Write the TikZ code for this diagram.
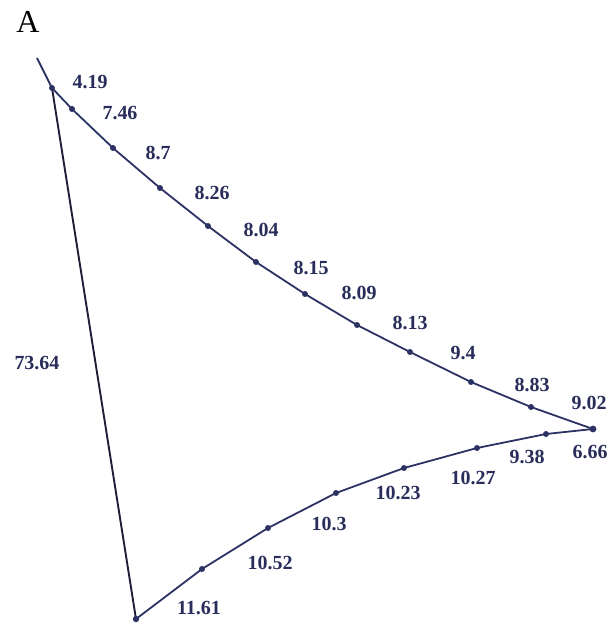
\documentclass[tikz,border=0pt]{standalone}
\usepackage{fontspec}
\setmainfont{Liberation Serif}
\usepackage{tikz}
\usetikzlibrary{calc}
\definecolor{curve}{RGB}{45, 50, 100}
\definecolor{edge}{RGB}{30, 30, 55}
\definecolor{tag}{RGB}{40, 45, 90}

\begin{document}
\begin{tikzpicture}[x=1pt, y=-1pt,
    val/.style={font=\fontsize{20}{20}\selectfont\bfseries, text=tag, inner sep=0pt}]
  \useasboundingbox (0,0) rectangle (611,625);

  % Panel letter
  \node[font=\fontsize{32}{32}\selectfont, text=black] (panel) at (28,22) {A};

  % Upper branch points
  \coordinate (top) at (37, 58);
  \coordinate (u0) at (52, 88);
  \coordinate (u1) at (72, 109);
  \coordinate (u2) at (113, 148);
  \coordinate (u3) at (160, 188);
  \coordinate (u4) at (208, 226);
  \coordinate (u5) at (256, 262);
  \coordinate (u6) at (305, 294);
  \coordinate (u7) at (357, 325);
  \coordinate (u8) at (410, 352);
  \coordinate (u9) at (471, 382);
  \coordinate (u10) at (531, 407);
  \coordinate (u11) at (593, 429);

  % Lower branch points
  \coordinate (l0) at (136, 619);
  \coordinate (l1) at (202, 569);
  \coordinate (l2) at (268, 528);
  \coordinate (l3) at (336, 493);
  \coordinate (l4) at (404, 468);
  \coordinate (l5) at (477, 448);
  \coordinate (l6) at (546, 434);

  % Long left edge
  \draw[edge, line width=1.9pt] (u0) -- (l0);

  % Upper branch
  \draw[curve, line width=1.8pt, line join=round] (top) -- (u0) -- (u1) -- (u2) -- (u3) -- (u4)
    -- (u5) -- (u6) -- (u7) -- (u8) -- (u9) -- (u10) -- (u11);

  % Lower branch
  \draw[curve, line width=1.8pt, line join=round] (l0) -- (l1) -- (l2) -- (l3) -- (l4)
    -- (l5) -- (l6) -- (u11);

  % Dots
  \fill[curve] (u0) circle (3) (u1) circle (3) (u2) circle (3) (u3) circle (3)
    (u4) circle (3) (u5) circle (3) (u6) circle (3) (u7) circle (3)
    (u8) circle (3) (u9) circle (3) (u10) circle (3) (u11) circle (3.4);
  \fill[curve] (l0) circle (3.2) (l1) circle (3) (l2) circle (3) (l3) circle (3)
    (l4) circle (3) (l5) circle (3) (l6) circle (3);

  % Upper labels
  \node[val] (t1) at (90, 82) {4.19};
  \node[val] (t2) at (120, 113) {7.46};
  \node[val] (t3) at (158, 153) {8.7};
  \node[val] (t4) at (212, 193) {8.26};
  \node[val] (t5) at (261, 230) {8.04};
  \node[val] (t6) at (311, 268) {8.15};
  \node[val] (t7) at (359, 293) {8.09};
  \node[val] (t8) at (410, 323) {8.13};
  \node[val] (t9) at (463, 353) {9.4};
  \node[val] (t10) at (532, 385) {8.83};
  \node[val] (t11) at (589, 403) {9.02};

  % Lower labels
  \node[val] (b1) at (590, 452) {6.66};
  \node[val] (b2) at (527, 457) {9.38};
  \node[val] (b3) at (473, 478) {10.27};
  \node[val] (b4) at (398, 493) {10.23};
  \node[val] (b5) at (329, 524) {10.3};
  \node[val] (b6) at (270, 563) {10.52};
  \node[val] (b7) at (199, 608) {11.61};

  % Left edge label
  \node[val] (side) at (37, 363) {73.64};
\end{tikzpicture}
\end{document}
